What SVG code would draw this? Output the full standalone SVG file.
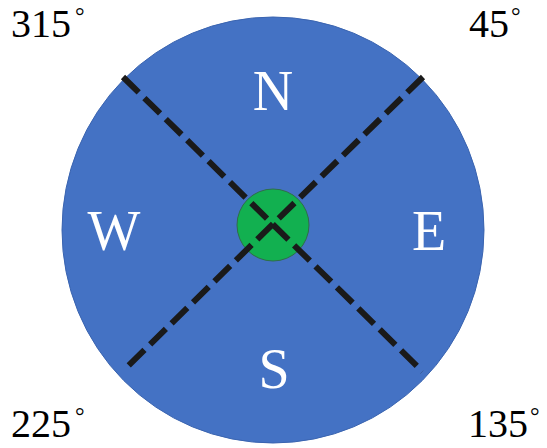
<svg xmlns="http://www.w3.org/2000/svg" width="547" height="448" viewBox="0 0 547 448">
<style>
.dir{font-family:"Liberation Serif","Times New Roman",serif;font-size:56px;fill:#ffffff;text-anchor:middle}
.deg{font-family:"Liberation Serif","Times New Roman",serif;font-size:40px;fill:#000000}
.ring{font-family:"Liberation Serif","Times New Roman",serif;font-size:24px;fill:#000000}
.dash{stroke:#1a1a1a;stroke-width:6;stroke-dasharray:22 8;fill:none}
</style>
<rect width="547" height="448" fill="#ffffff"/>
<g id="dial">
<ellipse cx="273" cy="230" rx="211" ry="213" fill="#4472C4" stroke="#3a64b0" stroke-width="1"/>
</g>
<g id="hub">
<circle cx="273" cy="225" r="36" fill="#12B050" stroke="#2F6E48" stroke-width="1"/>
</g>
<g id="connectors">
<line class="dash" x1="123" y1="77" x2="422.5" y2="371.5"/>
<line class="dash" x1="423" y1="77" x2="124" y2="370"/>
</g>
<g id="N"><text class="dir" x="273" y="110">N</text></g>
<g id="W"><text class="dir" x="114" y="250">W</text></g>
<g id="E"><text class="dir" x="429" y="250">E</text></g>
<g id="S"><text class="dir" x="274" y="388">S</text></g>
<g id="a315"><text class="deg" x="11" y="37">315</text><text class="ring" x="75" y="24">°</text></g>
<g id="a45"><text class="deg" x="469" y="37">45</text><text class="ring" x="511" y="24">°</text></g>
<g id="a225"><text class="deg" x="11" y="437">225</text><text class="ring" x="75" y="424">°</text></g>
<g id="a135"><text class="deg" x="468" y="437">135</text><text class="ring" x="530" y="424">°</text></g>
</svg>
